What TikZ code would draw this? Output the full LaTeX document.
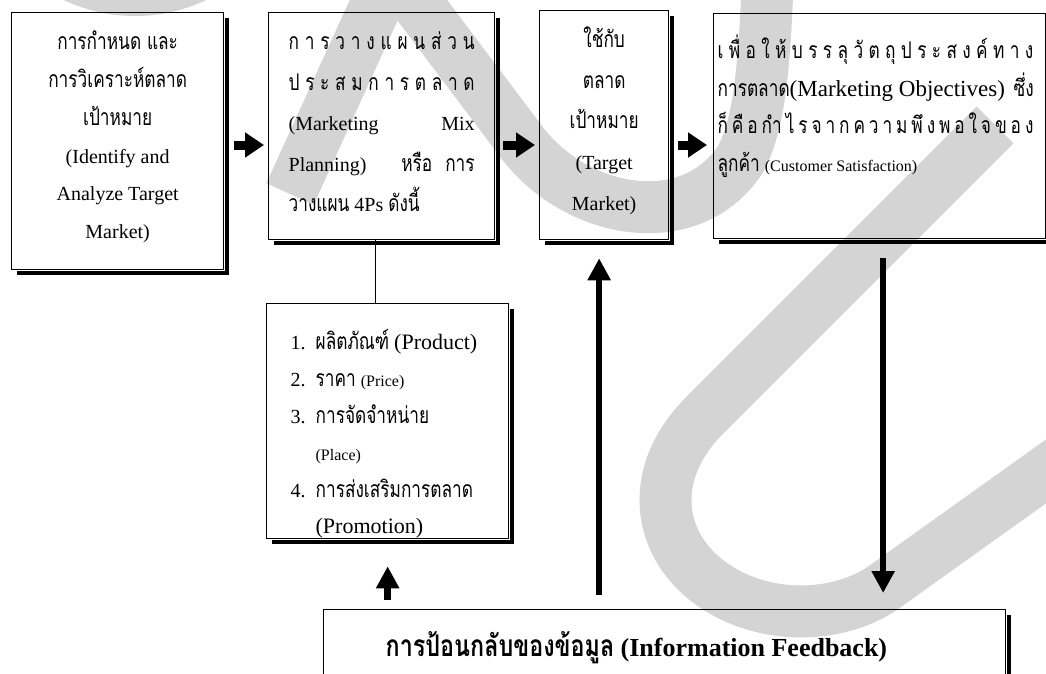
\documentclass[tikz,border=0pt]{standalone}
\usepackage{fontspec}
\usepackage{graphicx}
\setmainfont{Liberation Serif}
\newfontfamily\thf[Script=Thai,Scale=1.15]{Loma}
\usetikzlibrary{arrows.meta,calc}
\definecolor{wmgray}{RGB}{212,212,212}
\newcommand{\thx}[1]{\scalebox{0.75}[1]{\thf #1}}
\newcommand{\lbox}[2]{\leavevmode\hbox to #1{#2}}
\newcommand{\slbox}[2]{\leavevmode\scalebox{0.75}[1]{\hbox to #1{\thf #2}}}
\tikzset{
  wmark/.style={draw=wmgray,line width=52pt,line cap=butt,line join=round},
  bx/.style={draw,line width=1.3pt,inner sep=0pt,anchor=north west},
  shadowl/.style={line width=3.5pt},
  harrow/.style={line width=9pt,-{Triangle[width=24pt,length=19pt]}},
  varrow/.style={line width=6.5pt,-{Triangle[width=22pt,length=22pt]}},
  thinl/.style={line width=0.9pt}
}
\begin{document}
\begin{tikzpicture}[x=1pt,y=-1pt]
\useasboundingbox (0,0) rectangle (1046,674);
\clip (0,0) rectangle (1046,674);
\fill[white] (0,0) rectangle (1046,674);
% watermark
\draw[wmark] (135,-150) circle[radius=140];
\draw[wmark] (290,194) -- (392,-30) -- (520,140) .. controls (575,215) and (690,235) .. (740,160) .. controls (760,125) and (765,60) .. (768,-30);
\draw[wmark] (995,125) -- (705,415) .. controls (640,480) and (660,560) .. (730,595) .. controls (780,620) and (840,615) .. (880,590) -- (1090,440);
% boxes
\node[bx] (b1) at (11,12) {\parbox[c][257pt][t]{212pt}{\vspace*{17pt}\centering\fontsize{20}{37.8}\selectfont
\rule{0pt}{20pt}\thx{การกำหนด และ}\\ \thx{การวิเคราะห์ตลาด}\\ \thx{เป้าหมาย}\\ (Identify and\\ Analyze Target\\ Market)}};
\node[bx] (b2) at (268,12) {\parbox[c][227pt][t]{226pt}{\vspace*{17pt}\centering\fontsize{20}{40.5}\selectfont
\rule{0pt}{20pt}\slbox{248pt}{ก\hfil า\hfil ร\hfil ว\hfil า\hfil ง\hfil แ\hfil ผ\hfil น\hfil ส่\hfil ว\hfil น}\\
\slbox{248pt}{ป\hfil ร\hfil ะ\hfil ส\hfil ม\hfil ก\hfil า\hfil ร\hfil ต\hfil ล\hfil า\hfil ด}\\
\lbox{186pt}{(Marketing\hfil Mix}\\
\lbox{186pt}{Planning)\hfil\thx{หรือ}\hspace{13pt}\thx{การ}}\\
\lbox{186pt}{\thx{วางแผน} 4Ps \thx{ดังนี้}\hfil}}};
\node[bx] (b3) at (539,10) {\parbox[c][229pt][t]{129pt}{\vspace*{16pt}\centering\fontsize{20}{40.7}\selectfont
\rule{0pt}{20pt}\thx{ใช้กับ}\\ \thx{ตลาด}\\ \thx{เป้าหมาย}\\ (Target\\ Market)}};
\node[bx] (b4) at (713,13) {\parbox[c][225pt][t]{332pt}{\vspace*{21pt}\fontsize{20}{37.7}\selectfont\leftskip=4pt\noindent
\rule{0pt}{20pt}\slbox{421pt}{เ\hfil พื่\hfil อ\hfil ใ\hfil ห้\hfil บ\hfil ร\hfil ร\hfil ลุ\hfil วั\hfil ต\hfil ถุ\hfil ป\hfil ร\hfil ะ\hfil ส\hfil ง\hfil ค์\hfil ท\hfil า\hfil ง}\\
\lbox{316pt}{\thx{การตลาด}{\fontsize{23}{37.7}\selectfont(Marketing Objectives)}\hfil\thx{ซึ่ง}}\\
\slbox{421pt}{ก็\hfil คื\hfil อ\hfil กำ\hfil ไ\hfil ร\hfil จ\hfil า\hfil ก\hfil ค\hfil ว\hfil า\hfil ม\hfil พึ\hfil ง\hfil พ\hfil อ\hfil ใ\hfil จ\hfil ข\hfil อ\hfil ง}\\
\thx{ลูกค้า} {\fontsize{16}{37.7}\selectfont(Customer Satisfaction)}}};
\node[bx] (b5) at (266,303) {\parbox[c][235pt][t]{242pt}{\vspace*{26pt}\fontsize{20}{36.8}\selectfont\leftskip=24pt\noindent
\rule{0pt}{20pt}\makebox[25pt][l]{1.}\thx{ผลิตภัณฑ์} {\fontsize{22}{36.8}\selectfont(Product)}\\
\makebox[25pt][l]{2.}\thx{ราคา} {\fontsize{16}{36.8}\selectfont(Price)}\\
\makebox[25pt][l]{3.}\thx{การจัดจำหน่าย}\\
\hspace*{25pt}{\fontsize{16}{36.8}\selectfont(Place)}\\
\makebox[25pt][l]{4.}\thx{การส่งเสริมการตลาด}\\
\hspace*{25pt}{\fontsize{22}{36.8}\selectfont(Promotion)}}};
\node[bx] (b6) at (323,609) {\parbox[c][80pt][t]{682pt}{\vspace*{22pt}\fontsize{26}{30}\selectfont\bfseries\leftskip=62pt\noindent
\rule{0pt}{20pt}\scalebox{0.78}[1]{\thf การป้อนกลับของข้อมูล} (Information Feedback)}};
% shadows
\foreach \bb in {b1,b2,b3,b4,b5}{
  \draw[shadowl] ([shift={(2.5,6)}]\bb.north east) -- ([shift={(2.5,2.5)}]\bb.south east) -- ([shift={(6,2.5)}]\bb.south west);
}
\draw[shadowl] ([shift={(2.5,6)}]b6.north east) -- ([shift={(2.5,2.5)}]b6.south east);
% horizontal arrows
\draw[harrow] ($(b1.north east)+(10,133)$) -- ($(b2.north west)+(-4,133)$);
\draw[harrow] ($(b2.north east)+(8,133)$) -- ($(b3.north west)+(-4,135)$);
\draw[harrow] ($(b3.north east)+(9,135)$) -- ($(b4.north west)+(-6,132)$);
% thin connector
\coordinate (c1) at ($(b2.south)+(-6,0)$);
\draw[thinl] (c1) -- (c1 |- b5.north);
% vertical arrows
\coordinate (u1t) at ($(b3.south)+(-5,18)$);
\coordinate (u1b) at ($(u1t |- b6.north)+(0,-14)$);
\draw[varrow] (u1b) -- (u1t);
\coordinate (d1t) at ($(b4.south)+(3.5,19)$);
\coordinate (d1b) at ($(d1t |- b6.north)+(0,-16)$);
\draw[varrow] (d1t) -- (d1b);
\coordinate (u2t) at ($(b5.south)+(0,27)$);
\coordinate (u2b) at ($(u2t |- b6.north)+(0,-9)$);
\draw[varrow] (u2b) -- (u2t);
\end{tikzpicture}
\end{document}
